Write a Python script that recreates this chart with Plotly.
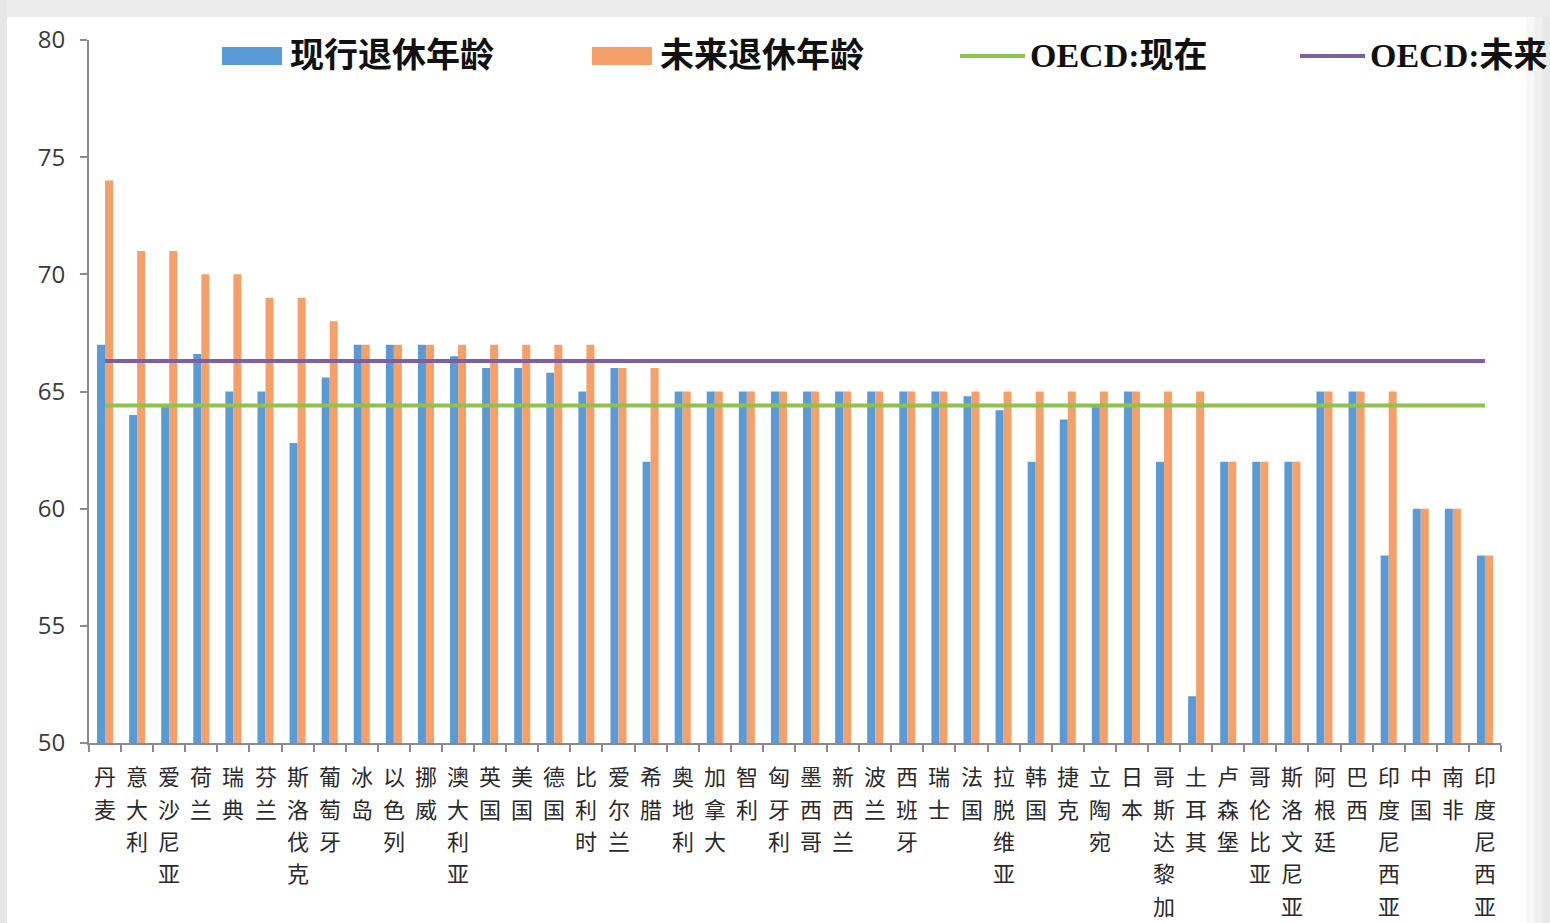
import plotly.graph_objects as go

# Countries, in the order shown along the x axis
countries = [
    "丹麦", "意大利", "爱沙尼亚", "荷兰", "瑞典", "芬兰", "斯洛伐克", "葡萄牙",
    "冰岛", "以色列", "挪威", "澳大利亚", "英国", "美国", "德国", "比利时",
    "爱尔兰", "希腊", "奥地利", "加拿大", "智利", "匈牙利", "墨西哥", "新西兰",
    "波兰", "西班牙", "瑞士", "法国", "拉脱维亚", "韩国", "捷克", "立陶宛",
    "日本", "哥斯达黎加", "土耳其", "卢森堡", "哥伦比亚", "斯洛文尼亚", "阿根廷", "巴西",
    "印度尼西亚", "中国", "南非", "印度尼西亚",
]

# Current normal retirement age
current_age = [
    67, 64, 64.4, 66.6, 65, 65, 62.8, 65.6,
    67, 67, 67, 66.5, 66, 66, 65.8, 65,
    66, 62, 65, 65, 65, 65, 65, 65,
    65, 65, 65, 64.8, 64.2, 62, 63.8, 64.4,
    65, 62, 52, 62, 62, 62, 65, 65,
    58, 60, 60, 58,
]

# Future normal retirement age
future_age = [
    74, 71, 71, 70, 70, 69, 69, 68,
    67, 67, 67, 67, 67, 67, 67, 67,
    66, 66, 65, 65, 65, 65, 65, 65,
    65, 65, 65, 65, 65, 65, 65, 65,
    65, 65, 65, 62, 62, 62, 65, 65,
    65, 60, 60, 58,
]

# OECD averages
oecd_current = 64.4
oecd_future = 66.3

series_names = ["现行退休年龄", "未来退休年龄", "OECD:现在", "OECD:未来"]

BLUE = "#5b9bd5"
ORANGE = "#f4a068"
GREEN = "#8fc24d"
PURPLE = "#7d60a3"

x_pos = list(range(1, len(countries) + 1))

fig = go.Figure()
fig.add_trace(go.Bar(x=x_pos, y=current_age, name=series_names[0],
                     marker=dict(color=BLUE, line=dict(width=0)), showlegend=False))
fig.add_trace(go.Bar(x=x_pos, y=future_age, name=series_names[1],
                     marker=dict(color=ORANGE, line=dict(width=0)), showlegend=False))
fig.add_trace(go.Scatter(x=x_pos, y=[oecd_current] * len(x_pos), mode="lines",
                         name=series_names[2], line=dict(color=GREEN, width=4),
                         showlegend=False))
fig.add_trace(go.Scatter(x=x_pos, y=[oecd_future] * len(x_pos), mode="lines",
                         name=series_names[3], line=dict(color=PURPLE, width=4),
                         showlegend=False))

W, H = 1550, 923
L, R, T, B = 89, 49, 40, 180
PW, PH = W - L - R, H - T - B

fig.update_layout(
    width=W, height=H,
    margin=dict(l=L, r=R, t=T, b=B),
    paper_bgcolor="white", plot_bgcolor="white",
    barmode="group", bargap=0.5, bargroupgap=0,
    showlegend=False,
    font=dict(family="Noto Sans CJK SC", color="#222"),
)

fig.update_xaxes(
    range=[0.5, len(countries) + 0.5],
    tickmode="array", tickvals=x_pos, showticklabels=False,
    ticks="",
    showline=True, linecolor="#8a8a8a", linewidth=2,
    showgrid=False, zeroline=False,
    minor=dict(tickmode="linear", tick0=0.5, dtick=1, ticks="outside",
               ticklen=7, tickwidth=2, tickcolor="#8a8a8a", showgrid=False),
)

fig.update_yaxes(
    range=[50, 80], dtick=5, tick0=50,
    ticks="outside", ticklen=7, tickwidth=2, tickcolor="#8a8a8a",
    tickfont=dict(family="Open Sans", size=24, color="#3a3a3a"),
    showline=True, linecolor="#8a8a8a", linewidth=2,
    showgrid=False, zeroline=False,
    ticklabelstandoff=10,
)


# Pixel positions on the page -> paper coordinates (relative to the plot area)
def px_x(v):
    return (v - L) / PW


def px_y(v):
    return (H - B - v) / PH


# Country names written vertically, one character per row under each category
label_font = dict(family="Noto Sans CJK SC", size=22, color="#2a2a2a")
first_row, row_step = 775, 32.5
for xv, name in zip(x_pos, countries):
    for k, ch in enumerate(name):
        fig.add_annotation(xref="x", yref="paper", x=xv, y=px_y(first_row + k * row_step),
                           xanchor="center", yanchor="middle", showarrow=False,
                           text=ch, font=label_font)

# Key across the top of the chart
key_font = dict(family="Liberation Serif, Noto Sans CJK SC", size=34, color="#111", weight="bold")
swatches = [
    ("rect", 222, 282, BLUE, 288, series_names[0]),
    ("rect", 592, 652, ORANGE, 658, series_names[1]),
    ("line", 960, 1025, GREEN, 1028, series_names[2]),
    ("line", 1300, 1365, PURPLE, 1368, series_names[3]),
]
for kind, x0, x1, color, tx, label in swatches:
    if kind == "rect":
        fig.add_shape(type="rect", xref="paper", yref="paper",
                      x0=px_x(x0), x1=px_x(x1), y0=px_y(65), y1=px_y(47),
                      fillcolor=color, line=dict(width=0))
    else:
        fig.add_shape(type="line", xref="paper", yref="paper",
                      x0=px_x(x0), x1=px_x(x1), y0=px_y(56), y1=px_y(56),
                      line=dict(color=color, width=4))
    fig.add_annotation(xref="paper", yref="paper", x=px_x(tx), y=px_y(56),
                       xanchor="left", yanchor="middle", showarrow=False,
                       text=label, font=key_font)

# Light grey frame around the white page
frame = [
    (0, W, 0, 17, "#ebebeb"),
    (0, 7, 0, H, "#e6e6e6"),
    (1526, 1534, 17, H, "#f7f7f7"),
    (1534, 1542, 17, H, "#f0f0f0"),
    (1542, W, 17, H, "#e8e8e8"),
]
for x0, x1, y0, y1, c in frame:
    fig.add_shape(type="rect", xref="paper", yref="paper", layer="above",
                  x0=px_x(x0), x1=px_x(x1), y0=px_y(y1), y1=px_y(y0),
                  fillcolor=c, line=dict(width=0))

fig.write_html("out.html")
